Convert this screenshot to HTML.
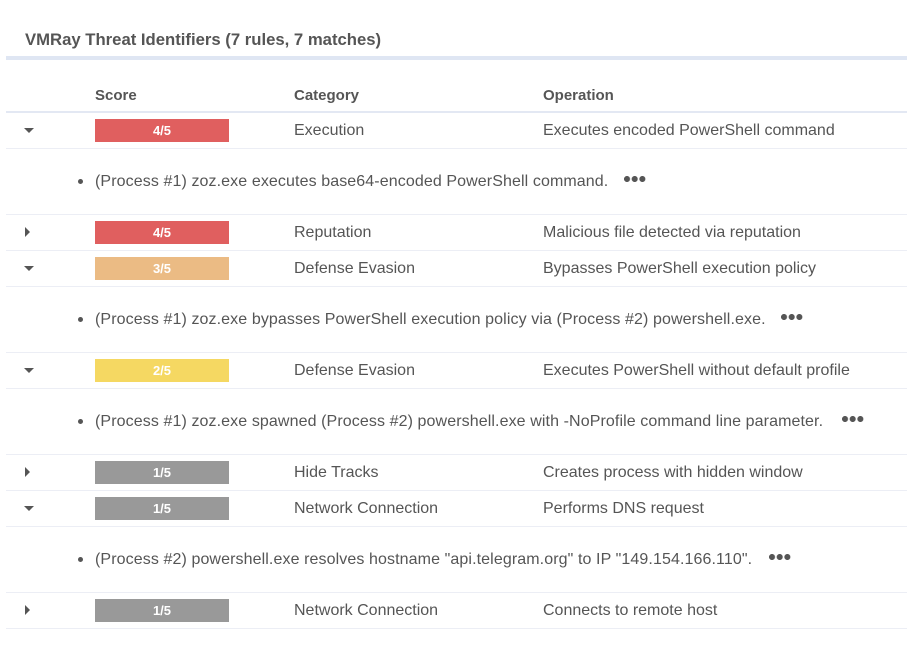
<!DOCTYPE html>
<html><head><meta charset="utf-8"><style>
body{margin:0;width:907px;height:649px;background:#fff;font-family:"Liberation Sans",sans-serif;color:#555;position:relative;overflow:hidden}
.a{position:absolute;white-space:nowrap}
.t{font-size:16.7px;font-weight:bold;color:#555;left:25px;top:30px}
.band{left:6px;right:0;top:56px;height:4px;background:#dfe6f3}
.h{font-size:15px;font-weight:bold;color:#555;top:87px}
.ln{left:6px;right:0;height:1px;background:#eceef5}
.c{font-size:16px;line-height:18px}
.d{letter-spacing:0.1px}
.bar{left:95px;width:134px;height:23px;color:#fff;font-size:13px;font-weight:bold;text-align:center;line-height:23px}
.dn{left:24px;width:0;height:0;border-left:5px solid transparent;border-right:5px solid transparent;border-top:5px solid #555}
.rt{left:25px;width:0;height:0;border-top:5px solid transparent;border-bottom:5px solid transparent;border-left:5px solid #555}
.dot{width:5px;height:5px;border-radius:50%;background:#555;left:78px}
.m{width:22px;height:6px;background:radial-gradient(circle at 3px 3px,#555 2.8px,transparent 3.2px) 0 0/7.7px 6px repeat-x}
</style></head><body>
<div class="a t">VMRay Threat Identifiers (7 rules, 7 matches)</div>
<div class="a band"></div>
<div class="a h" style="left:95px">Score</div>
<div class="a h" style="left:294px">Category</div>
<div class="a h" style="left:543px">Operation</div>
<div class="a ln" style="top:111px;height:2px;background:#e3e8f3"></div>

<div class="a dn" style="top:128px"></div>
<div class="a bar" style="top:119px;background:#e05f5f">4/5</div>
<div class="a c" style="left:294px;top:122px">Execution</div>
<div class="a c" style="left:543px;top:122px">Executes encoded PowerShell command</div>
<div class="a ln" style="top:148px"></div>
<div class="a dot" style="top:179px"></div>
<div class="a c d" style="left:95px;top:173px">(Process #1) zoz.exe executes base64-encoded PowerShell command.</div>
<div class="a m" style="left:624px;top:176px"></div>
<div class="a ln" style="top:214px"></div>

<div class="a rt" style="top:227px"></div>
<div class="a bar" style="top:221px;background:#e05f5f">4/5</div>
<div class="a c" style="left:294px;top:224px">Reputation</div>
<div class="a c" style="left:543px;top:224px">Malicious file detected via reputation</div>
<div class="a ln" style="top:250px"></div>

<div class="a dn" style="top:266px"></div>
<div class="a bar" style="top:257px;background:#ebbb84">3/5</div>
<div class="a c" style="left:294px;top:260px">Defense Evasion</div>
<div class="a c" style="left:543px;top:260px">Bypasses PowerShell execution policy</div>
<div class="a ln" style="top:286px"></div>
<div class="a dot" style="top:317px"></div>
<div class="a c d" style="left:95px;top:311px">(Process #1) zoz.exe bypasses PowerShell execution policy via (Process #2) powershell.exe.</div>
<div class="a m" style="left:781px;top:314px"></div>
<div class="a ln" style="top:352px"></div>

<div class="a dn" style="top:368px"></div>
<div class="a bar" style="top:359px;background:#f5d862">2/5</div>
<div class="a c" style="left:294px;top:362px">Defense Evasion</div>
<div class="a c" style="left:543px;top:362px">Executes PowerShell without default profile</div>
<div class="a ln" style="top:388px"></div>
<div class="a dot" style="top:419px"></div>
<div class="a c d" style="left:95px;top:413px">(Process #1) zoz.exe spawned (Process #2) powershell.exe with -NoProfile command line parameter.</div>
<div class="a m" style="left:842px;top:416px"></div>
<div class="a ln" style="top:454px"></div>

<div class="a rt" style="top:467px"></div>
<div class="a bar" style="top:461px;background:#999">1/5</div>
<div class="a c" style="left:294px;top:464px">Hide Tracks</div>
<div class="a c" style="left:543px;top:464px">Creates process with hidden window</div>
<div class="a ln" style="top:490px"></div>

<div class="a dn" style="top:506px"></div>
<div class="a bar" style="top:497px;background:#999">1/5</div>
<div class="a c" style="left:294px;top:500px">Network Connection</div>
<div class="a c" style="left:543px;top:500px">Performs DNS request</div>
<div class="a ln" style="top:526px"></div>
<div class="a dot" style="top:557px"></div>
<div class="a c d" style="left:95px;top:551px">(Process #2) powershell.exe resolves hostname "api.telegram.org" to IP "149.154.166.110".</div>
<div class="a m" style="left:769px;top:554px"></div>
<div class="a ln" style="top:592px"></div>

<div class="a rt" style="top:605px"></div>
<div class="a bar" style="top:599px;background:#999">1/5</div>
<div class="a c" style="left:294px;top:602px">Network Connection</div>
<div class="a c" style="left:543px;top:602px">Connects to remote host</div>
<div class="a ln" style="top:628px"></div>
</body></html>
